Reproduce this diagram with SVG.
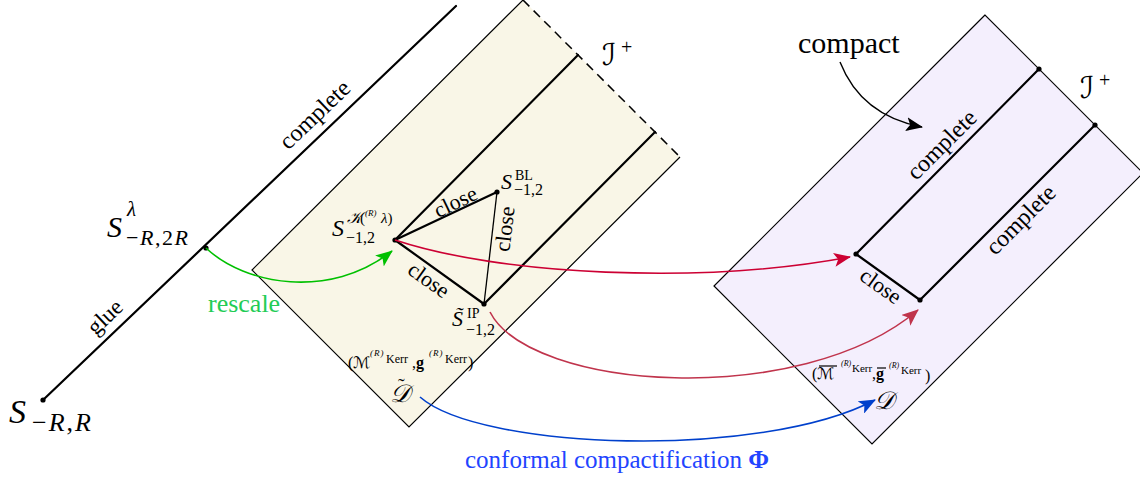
<svg xmlns="http://www.w3.org/2000/svg" width="1140" height="480" viewBox="0 0 1140 480" font-family="'Liberation Serif', serif">
<style>
 .t{font-family:"Liberation Serif","Times New Roman",serif;fill:#000}
 .i{font-style:italic}
 .cal{font-family:"DejaVu Serif","DejaVu Sans","Noto Sans",serif;font-style:italic}
 .b{font-weight:bold}
 .edge{fill:none;stroke:#000;stroke-width:1.2;stroke-linejoin:miter}
 .thick{stroke:#000;stroke-width:2.2;fill:none;stroke-linecap:round}
 .thin{stroke:#000;stroke-width:1.3;fill:none}
 .dot{fill:#000}
</style>
<defs>
 <marker id="aG" markerUnits="userSpaceOnUse" markerWidth="18" markerHeight="14" refX="16" refY="7" orient="auto"><path d="M0,0 L17,7 L0,14 L4,7 z" fill="#00c000"/></marker>
 <marker id="aR" markerUnits="userSpaceOnUse" markerWidth="18" markerHeight="14" refX="16" refY="7" orient="auto"><path d="M0,0 L17,7 L0,14 L4,7 z" fill="#cc0033"/></marker>
 <marker id="aR2" markerUnits="userSpaceOnUse" markerWidth="18" markerHeight="14" refX="16" refY="7" orient="auto"><path d="M0,0 L17,7 L0,14 L4,7 z" fill="#c0344c"/></marker>
 <marker id="aB" markerUnits="userSpaceOnUse" markerWidth="18" markerHeight="14" refX="16" refY="7" orient="auto"><path d="M0,0 L17,7 L0,14 L4,7 z" fill="#0040cc"/></marker>
 <marker id="aK" markerUnits="userSpaceOnUse" markerWidth="18" markerHeight="14" refX="16" refY="7" orient="auto"><path d="M0,0 L17,7 L0,14 L4,7 z" fill="#000"/></marker>
</defs>

<g id="left-region">
 <polygon points="523,0 252,270 409,427 680,157" fill="#f9f6e7"/>
 <polyline points="523,0 252,270 409,427 680,157" class="edge"/>
 <line x1="523" y1="0" x2="680" y2="157" stroke="#000" stroke-width="1.5" stroke-dasharray="9,6"/>
 <line x1="395" y1="240" x2="578" y2="55" class="thick"/>
 <line x1="484" y1="304" x2="655" y2="132" class="thick"/>
 <line x1="395" y1="240" x2="497" y2="192" class="thick"/>
 <line x1="395" y1="240" x2="484" y2="304" class="thick"/>
 <line x1="497" y1="192" x2="484" y2="304" class="thin"/>
 <text class="t" font-size="22" text-anchor="middle" transform="translate(456,203) rotate(-25.7)" y="6">close</text>
 <text class="t" font-size="22" text-anchor="middle" transform="translate(506,229) rotate(-83.4)" y="6">close</text>
 <text class="t" font-size="22" text-anchor="middle" transform="translate(428,281) rotate(35.7)" y="6">close</text>
 <text class="cal" font-size="30" x="602" y="65">ℐ</text>
 <text class="t" font-size="20" x="621" y="54">+</text>
 <text class="t" font-size="16" x="348" y="368">(</text>
 <text class="cal" font-size="16" x="353" y="368">ℳ</text>
 <text class="t i" font-size="9" x="370" y="356" letter-spacing="1">(R)</text>
 <text class="t" font-size="12" x="386" y="363">Kerr</text>
 <text class="t" font-size="16" x="412" y="368">,<tspan class="b">g</tspan></text>
 <text class="t i" font-size="9" x="429" y="356" letter-spacing="1">(R)</text>
 <text class="t" font-size="12" x="445" y="363">Kerr</text>
 <text class="t" font-size="16" x="468" y="368">)</text>
 <text class="cal" font-size="25" x="390" y="402">𝒟</text>
 <text class="t" font-size="20" x="398" y="393">˜</text>
</g>

<g id="glue-line">
 <line x1="43" y1="400" x2="456" y2="6" class="thick"/>
 <text class="t" font-size="24" text-anchor="middle" transform="translate(316,116) rotate(-43.6)" y="6">complete</text>
 <text class="t" font-size="23" text-anchor="middle" transform="translate(106,318) rotate(-43.6)" y="6">glue</text>
</g>

<g id="right-region">
 <polygon points="985,15 714,286 872,444 1143,173" fill="#f4effd"/>
 <polygon points="985,15 714,286 872,444 1143,173" class="edge"/>
 <line x1="1039" y1="69" x2="856" y2="254" class="thick"/>
 <line x1="1095" y1="125" x2="920" y2="300" class="thick"/>
 <line x1="856" y1="254" x2="920" y2="300" class="thick"/>
 <text class="t" font-size="22" text-anchor="middle" transform="translate(880,287) rotate(35.7)" y="6">close</text>
 <text class="t" font-size="24" text-anchor="middle" transform="translate(943,146) rotate(-45)" y="6">complete</text>
 <text class="t" font-size="24" text-anchor="middle" transform="translate(1022,221) rotate(-45)" y="6">complete</text>
 <text class="cal" font-size="30" x="1080" y="98">ℐ</text>
 <text class="t" font-size="20" x="1099" y="87">+</text>
 <text class="t" font-size="16" x="812" y="379">(</text>
 <text class="cal" font-size="16" x="817" y="379">ℳ</text>
 <line x1="819" y1="366" x2="837" y2="366" stroke="#000" stroke-width="1.2"/>
 <text class="t i" font-size="8" x="841" y="366">(R)</text>
 <text class="t" font-size="11" x="852" y="372">Kerr</text>
 <text class="t" font-size="16" x="872" y="379">,<tspan class="b">g</tspan></text>
 <line x1="877" y1="368" x2="886" y2="368" stroke="#000" stroke-width="1.2"/>
 <text class="t i" font-size="8" x="889" y="368">(R)</text>
 <text class="t" font-size="11" x="901" y="374">Kerr</text>
 <text class="t" font-size="16" x="925" y="381">)</text>
 <text class="cal" font-size="25" x="874" y="409">𝒟</text>
 <text class="t" font-size="30" x="798" y="53">compact</text>
</g>

<g id="points">
 <circle cx="43" cy="400" r="2.6" class="dot"/>
 <circle cx="206" cy="248" r="2.6" class="dot"/>
 <circle cx="395" cy="240" r="2.6" class="dot"/>
 <circle cx="497" cy="192" r="2.6" class="dot"/>
 <circle cx="484" cy="304" r="2.6" class="dot"/>
 <circle cx="1039" cy="69" r="2.6" class="dot"/>
 <circle cx="1095" cy="125" r="2.6" class="dot"/>
 <circle cx="856" cy="254" r="2.6" class="dot"/>
 <circle cx="920" cy="300" r="2.6" class="dot"/>
</g>

<g id="point-labels">
 <text class="t i" font-size="34" x="9" y="423">S</text>
 <text class="t" font-size="26" x="32" y="431" letter-spacing="2">−<tspan class="i">R</tspan>,<tspan class="i">R</tspan></text>
 <text class="t i" font-size="30" x="107" y="237">S</text>
 <text class="t i" font-size="21" x="127" y="216">λ</text>
 <text class="t" font-size="22" x="126" y="245" letter-spacing="1.5">−<tspan class="i">R</tspan>,2<tspan class="i">R</tspan></text>
 <text class="t i" font-size="24" x="332" y="236">S</text>
 <text class="cal" font-size="16" x="347" y="223">𝒦</text>
 <text class="t" font-size="15" x="360" y="223">(</text>
 <text class="t i" font-size="9" x="365" y="216">(R)</text>
 <text class="t i" font-size="15" x="381" y="223">λ<tspan font-style="normal">)</tspan></text>
 <text class="t" font-size="16" x="346" y="243">−1,2</text>
 <text class="t i" font-size="22" x="501" y="189">S</text>
 <text class="t" font-size="14" x="515" y="180">BL</text>
 <text class="t" font-size="16" x="514" y="195">−1,2</text>
 <text class="t i" font-size="22" x="452" y="326">S̃</text>
 <text class="t" font-size="14" x="467" y="318">IP</text>
 <text class="t" font-size="16" x="466" y="335">−1,2</text>
</g>

<g id="connectors" fill="none">
 <path d="M206,248 C245,285 330,300 392,251" stroke="#00c000" stroke-width="1.6" marker-end="url(#aG)"/>
 <path d="M395,240 C500,275 700,285 850,257" stroke="#cc0033" stroke-width="1.6" marker-end="url(#aR)"/>
 <path d="M490,312 C530,390 800,410 918,310" stroke="#c0344c" stroke-width="1.6" marker-end="url(#aR2)"/>
 <path d="M420,397 C480,450 760,460 875,400" stroke="#0040cc" stroke-width="1.6" marker-end="url(#aB)"/>
 <path d="M840,62 C855,100 885,120 922,127" stroke="#000" stroke-width="1.4" marker-end="url(#aK)"/>
 <text class="t" font-size="26" x="208" y="312" style="fill:#22cc55">rescale</text>
 <text class="t" font-size="25" x="465" y="468" style="fill:#2244ff">conformal compactification <tspan class="b">Φ</tspan></text>
</g>
</svg>
